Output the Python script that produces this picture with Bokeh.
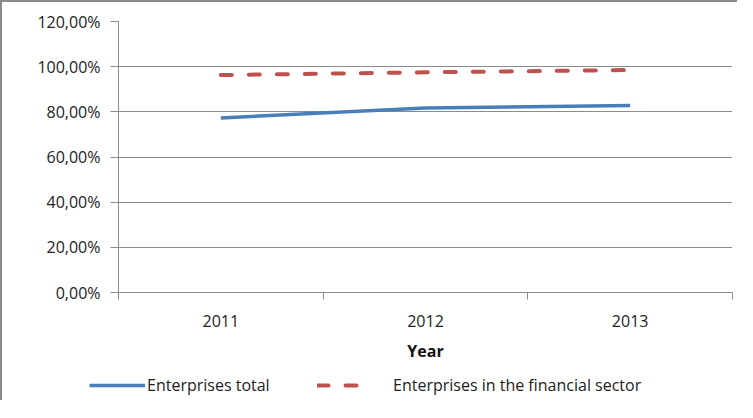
from bokeh.plotting import figure
from bokeh.layouts import column
from bokeh.models import (ColumnDataSource, FixedTicker, Range1d, Legend, LegendItem, Label)
from bokeh.embed import file_html
from bokeh.resources import INLINE

years = ["2011", "2012", "2013"]
enterprises_total = [77.3, 81.7, 82.8]
financial_sector = [96.3, 97.5, 98.5]
y_ticks = [0, 20, 40, 60, 80, 100, 120]
y_tick_labels = ["0,00%", "20,00%", "40,00%", "60,00%", "80,00%", "100,00%", "120,00%"]
series_names = ["Enterprises total", "Enterprises in the financial sector"]
x_title = "Year"
title_prefix = "Figure 15:"
title_text = "Enterprises having broadband Internet access"

FONT = "Open Sans"
GRAY = "#8c8c8c"
BLUE = "#4a7ebb"
RED = "#c0504d"
NAN = float("nan")

xpos = [i + 0.5 for i in range(len(years))]
src = ColumnDataSource(dict(x=xpos, total=enterprises_total, fin=financial_sector))

can_unalign = "frame_align" in figure.properties() if hasattr(figure, "properties") else False

p = figure(width=735, height=362, output_backend="svg", toolbar_location=None,
           x_range=Range1d(0, len(years)), y_range=Range1d(y_ticks[0], y_ticks[-1]),
           min_border_left=116, min_border_right=5, min_border_top=19, min_border_bottom=71)
p.outline_line_color = None
p.background_fill_color = "white"

p.line("x", "total", source=src, line_color=BLUE, line_width=3.5)
p.line("x", "fin", source=src, line_color=RED, line_width=4,
       line_dash="11 17", line_cap="round")

# y axis
p.yaxis.ticker = FixedTicker(ticks=y_ticks)
p.yaxis.major_label_overrides = {t: l for t, l in zip(y_ticks, y_tick_labels)}
p.yaxis.axis_line_color = GRAY
p.yaxis.major_tick_line_color = GRAY
p.yaxis.major_tick_out = 8
p.yaxis.major_tick_in = 0
p.yaxis.minor_tick_line_color = None
p.yaxis.major_label_text_font = FONT
p.yaxis.major_label_text_font_size = "16px"
p.yaxis.major_label_text_color = "#222222"
p.yaxis.major_label_standoff = 10

# x axis
p.xaxis.ticker = FixedTicker(ticks=xpos, minor_ticks=list(range(len(years) + 1)))
p.xaxis.major_label_overrides = {x: y for x, y in zip(xpos, years)}
p.xaxis.axis_line_color = GRAY
p.xaxis.major_tick_line_color = None
p.xaxis.major_tick_out = 0
p.xaxis.major_tick_in = 0
p.xaxis.minor_tick_line_color = GRAY
p.xaxis.minor_tick_out = 7
p.xaxis.minor_tick_in = 0
p.xaxis.major_label_text_font = FONT
p.xaxis.major_label_text_font_size = "16px"
p.xaxis.major_label_text_color = "#222222"
p.xaxis.major_label_standoff = 15
p.xaxis.axis_label = x_title
p.xaxis.axis_label_text_font = FONT
p.xaxis.axis_label_text_font_size = "16px"
p.xaxis.axis_label_text_font_style = "bold"
p.xaxis.axis_label_text_color = "#111111"
p.xaxis.axis_label_standoff = 10

p.xgrid.visible = False
p.ygrid.ticker = FixedTicker(ticks=y_ticks)
p.ygrid.grid_line_color = GRAY
p.ygrid.grid_line_width = 1

# legend strip (its own small figure, so the legend is not clipped by the plot frame)
lf = figure(width=735, height=36, output_backend="svg", toolbar_location=None,
            x_range=Range1d(0, 1), y_range=Range1d(0, 1),
            min_border_left=0 if can_unalign else 116, min_border_right=5,
            min_border_top=0, min_border_bottom=0)
lf.axis.visible = False
lf.grid.visible = False
lf.outline_line_color = None
d1 = lf.line(x=[NAN], y=[NAN], line_color=BLUE, line_width=3.5)
d2 = lf.line(x=[NAN], y=[NAN], line_color=RED, line_width=4, line_dash="11 17", line_cap="round")

shift = 0 if can_unalign else -117
for name, r, loc, standoff, gw in [(series_names[0], d1, (87 + shift, 4), 2, 56),
                                   (series_names[1], d2, (315 + shift, 4), 22, 54)]:
    lg = Legend(items=[LegendItem(label=name, renderers=[r])], location=loc,
                orientation="horizontal", label_standoff=standoff, glyph_width=gw,
                border_line_color=None, background_fill_alpha=0,
                label_text_font=FONT, label_text_font_size="16px",
                label_text_color="#222222", padding=0, margin=0)
    lf.add_layout(lg, "center")

# figure caption strip above the chart box (mostly above the page top, as in the scan)
tf = figure(width=737, height=16, output_backend="svg", toolbar_location=None,
            x_range=Range1d(0, 1), y_range=Range1d(0, 1),
            min_border_left=0, min_border_right=0, min_border_top=0, min_border_bottom=0)
tf.axis.visible = False
tf.grid.visible = False
tf.outline_line_color = None
tf.add_layout(Label(x=159, y=3, x_units="screen", y_units="screen", text=title_prefix,
                    text_font="Liberation Serif", text_font_size="16px",
                    text_font_style="bold", text_color="#000000"))
tf.add_layout(Label(x=234, y=3, x_units="screen", y_units="screen", text=title_text,
                    text_font="Liberation Serif", text_font_size="16px",
                    text_color="#000000"))

if can_unalign:
    p.frame_align = False
    lf.frame_align = False
    tf.frame_align = False

inner = column(p, lf, spacing=0)
inner.styles = {"border-left": "2px solid #8a8a8a", "border-top": "2px solid #8a8a8a"}
outer = column(tf, inner, spacing=0)
outer.styles = {"margin-top": "-16px"}

open("out.html", "w").write(file_html(outer, INLINE))
